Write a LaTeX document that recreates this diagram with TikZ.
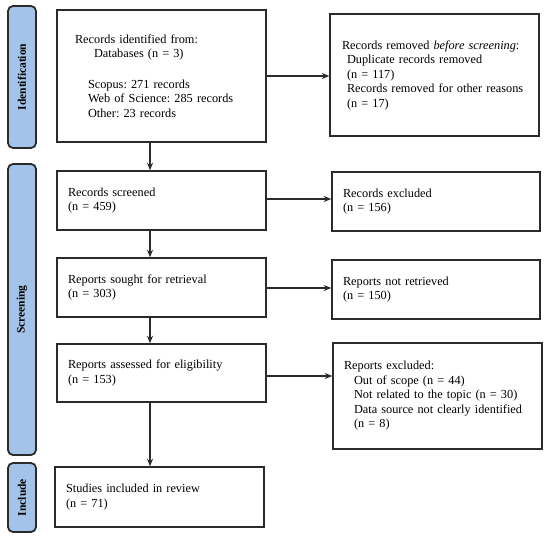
\documentclass[tikz,border=0pt]{standalone}
\usepackage{fontspec}
\setmainfont{Liberation Serif}
\usetikzlibrary{arrows.meta}
\frenchspacing
\definecolor{barblue}{HTML}{A3C4E8}
\definecolor{barline}{HTML}{2B2B2B}
\tikzset{
  stagebar/.style={draw=barline, line width=1.8pt, fill=barblue, rounded corners=5pt, minimum width=28pt, inner sep=0pt},
  stagelabel/.style={rotate=90, font=\fontsize{11.5}{13}\selectfont\bfseries},
  flowbox/.style={draw=barline, line width=1.4pt, inner ysep=0pt, align=left, font=\fontsize{12.3}{14.5}\selectfont},
  flowarrow/.style={draw=barline, line width=1.5pt, -{Stealth[length=7.5pt,width=6pt]}}
}
\begin{document}
\begin{tikzpicture}[x=1pt,y=-1pt]
\useasboundingbox (0,0) rectangle (550,538);
% stage bars
\node[stagebar, minimum height=142pt] (sid) at (22,77) {};
\node[stagelabel] (lid) at (sid.center) {Identification};
\node[stagebar, minimum height=291pt] (sscr) at (22,309.5) {};
\node[stagelabel] (lscr) at (sscr.center) {Screening};
\node[stagebar, minimum height=69pt] (sinc) at (22,497.5) {};
\node[stagelabel] (linc) at (sinc.center) {Include};
% left column
\node[flowbox, minimum width=209pt, minimum height=132pt, inner xsep=18pt, text width=173pt] (b1) at (161.5,76)
 {Records identified from:\\
  \hspace*{19pt}Databases (n = 3)\\[16pt]
  \hspace*{13pt}Scopus: 271 records\\
  \hspace*{13pt}Web of Science: 285 records\\
  \hspace*{13pt}Other: 23 records};
\node[flowbox, minimum width=209pt, minimum height=59pt, inner xsep=11pt, text width=187pt] (b2) at (161.5,200.5)
 {Records screened\\(n = 459)};
\node[flowbox, minimum width=209pt, minimum height=59pt, inner xsep=11pt, text width=187pt] (b3) at (161.5,287.5)
 {Reports sought for retrieval\\(n = 303)};
\node[flowbox, minimum width=209pt, minimum height=58pt, inner xsep=11pt, text width=187pt] (b4) at (161.5,373)
 {Reports assessed for eligibility\\(n = 153)};
\node[flowbox, minimum width=209pt, minimum height=60pt, inner xsep=11pt, text width=187pt] (b5) at (159.5,497)
 {Studies included in review\\(n = 71)};
% right column
\node[flowbox, minimum width=209pt, minimum height=122pt, inner xsep=12pt, text width=185pt] (r1) at (434.5,75)
 {Records removed \textit{before screening}:\\
  \hspace*{5pt}Duplicate records removed\\
  \hspace*{5pt}(n = 117)\\
  \hspace*{5pt}Records removed for other reasons\\
  \hspace*{5pt}(n = 17)};
\node[flowbox, minimum width=208pt, minimum height=59pt, inner xsep=11pt, text width=186pt] (r2) at (436,201.5)
 {Records excluded\\(n = 156)};
\node[flowbox, minimum width=208pt, minimum height=59pt, inner xsep=11pt, text width=186pt] (r3) at (436,289.5)
 {Reports not retrieved\\(n = 150)};
\node[flowbox, minimum width=209pt, minimum height=106pt, inner xsep=11pt, text width=187pt] (r4) at (437.5,396)
 {Reports excluded:\\
  \hspace*{10pt}Out of scope (n = 44)\\
  \hspace*{10pt}Not related to the topic (n = 30)\\
  \hspace*{10pt}Data source not clearly identified\\
  \hspace*{10pt}(n = 8)};
% connectors
\coordinate (xa) at (150,0);
\draw[flowarrow] (b1.south -| xa) -- (b2.north -| xa);
\draw[flowarrow] (b2.south -| xa) -- (b3.north -| xa);
\draw[flowarrow] (b3.south -| xa) -- (b4.north -| xa);
\draw[flowarrow] (b4.south -| xa) -- (b5.north -| xa);
\draw[flowarrow] (b1.east) -- (b1.east -| r1.west);
\draw[flowarrow] ([yshift=1.5pt]b2.east) -- ([yshift=1.5pt]b2.east -| r2.west);
\draw[flowarrow] ([yshift=-0.5pt]b3.east) -- ([yshift=-0.5pt]b3.east -| r3.west);
\draw[flowarrow] ([yshift=-3pt]b4.east) -- ([yshift=-3pt]b4.east -| r4.west);
\end{tikzpicture}
\end{document}
